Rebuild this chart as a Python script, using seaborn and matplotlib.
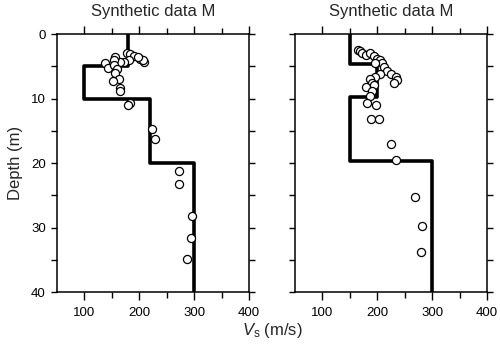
import numpy as np
import pandas as pd
import matplotlib
matplotlib.use("Agg")
import matplotlib.pyplot as plt
from matplotlib.ticker import MultipleLocator, FixedLocator
import seaborn as sns

# layered Vs models (velocity of each layer, depth of layer bottoms)
vs_left = [180, 100, 220, 300]
bounds_left = [5, 10, 20]
vs_right = [150, 200, 150, 300]
bounds_right = [4.7, 9.7, 19.7]
max_depth = 40

# observed points (Vs, depth)
obs_left_vs = [177.6, 183.6, 190.9, 201.8, 209.0, 206.7, 196.9, 180.5, 171.5, 164.2,
               156.4, 153.3, 138.2, 142.4, 154.5, 159.5, 156.4, 162.4, 152.2, 165.5,
               165.5, 183.6, 179.5, 223.0, 227.8, 273.3, 272.7, 296.4, 295.1, 286.7]
obs_left_depth = [3.0, 3.15, 3.4, 3.8, 4.4, 4.0, 3.6, 4.0, 4.3, 4.3,
                  3.5, 4.0, 4.45, 5.2, 4.8, 5.5, 6.1, 6.9, 7.3, 8.4,
                  8.8, 10.65, 11.05, 14.8, 16.3, 21.3, 23.3, 28.2, 31.6, 34.9]

obs_right_vs = [164.2, 169.0, 172.0, 180.0, 187.3, 193.3, 199.4, 204.2, 208.5, 196.4,
                211.5, 217.6, 224.9, 234.5, 235.8, 229.7, 204.2, 196.4, 187.3, 190.4,
                180.0, 193.3, 190.4, 186.0, 181.3, 198.2, 189.1, 203.6, 224.9, 233.6,
                269.1, 282.4, 280.0]
obs_right_depth = [2.5, 2.7, 3.0, 3.25, 3.0, 3.4, 3.8, 4.0, 4.45, 4.55,
                   5.1, 5.7, 6.2, 6.7, 7.1, 7.55, 6.2, 6.7, 7.0, 7.6,
                   8.2, 7.9, 8.8, 9.6, 10.65, 11.05, 13.2, 13.1, 17.1, 19.5,
                   25.2, 29.8, 33.75]

title = "Synthetic data M"


def profile(vs, bounds):
    x = np.repeat(vs, 2)
    y = np.r_[0, np.repeat(bounds, 2), max_depth]
    return pd.DataFrame({"vs": x, "depth": y})


sns.set_style("ticks")
plt.rcParams["font.family"] = ["Liberation Sans", "DejaVu Sans"]
plt.rcParams["mathtext.fontset"] = "custom"
plt.rcParams["mathtext.rm"] = "Liberation Sans"
plt.rcParams["mathtext.it"] = "Liberation Sans:italic"

fig = plt.figure(figsize=(5, 3.45), dpi=100)
ax1 = fig.add_axes([0.114, 0.1536, 0.384, 0.7478])
ax2 = fig.add_axes([0.590, 0.1536, 0.384, 0.7478])

panels = [
    (ax1, vs_left, bounds_left, obs_left_vs, obs_left_depth),
    (ax2, vs_right, bounds_right, obs_right_vs, obs_right_depth),
]

for ax, vs, bnds, ovs, odep in panels:
    sns.lineplot(data=profile(vs, bnds), x="vs", y="depth", sort=False,
                 estimator=None, color="black", linewidth=2.6, ax=ax, zorder=2)
    sns.scatterplot(x=ovs, y=odep, ax=ax, marker="o", s=34, facecolor="white",
                    edgecolor="black", linewidth=0.9, zorder=3)
    ax.set_xlim(50, 400)
    ax.set_ylim(max_depth, 0)
    ax.xaxis.set_major_locator(FixedLocator([100, 200, 300, 400]))
    ax.xaxis.set_minor_locator(FixedLocator([150, 250, 350]))
    ax.yaxis.set_major_locator(MultipleLocator(10))
    ax.yaxis.set_minor_locator(MultipleLocator(5))
    ax.tick_params(which="both", direction="out", top=True, right=True,
                   width=1.0, colors="black", labelsize=9.5)
    ax.tick_params(axis="x", which="major", length=6, pad=5)
    ax.tick_params(axis="x", which="minor", length=4)
    ax.tick_params(axis="y", which="both", length=4.5)
    for sp in ax.spines.values():
        sp.set_visible(True)
        sp.set_linewidth(1.1)
        sp.set_color("black")
    ax.set_xlabel("")
    ax.set_ylabel("")
    ax.set_title(title, fontsize=12, pad=13)

ax1.set_ylabel("Depth (m)", fontsize=12, labelpad=6)
ax2.tick_params(axis="y", labelleft=False)

fig.text(0.544, 0.015, r"$V_{\mathrm{s}}$ (m/s)", ha="center", va="bottom", fontsize=12)

fig.savefig("out.png", dpi=100)
